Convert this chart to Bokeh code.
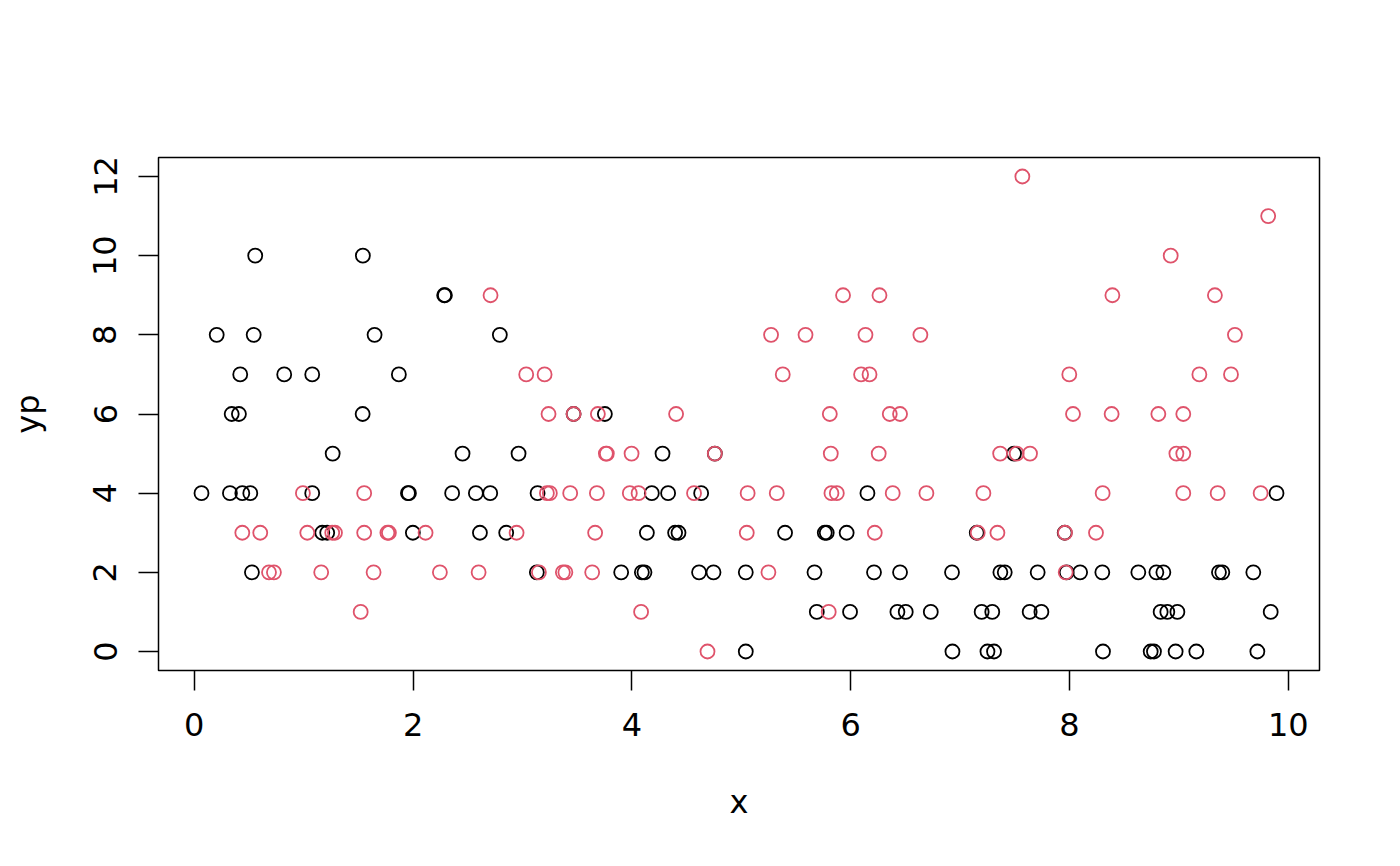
from bokeh.plotting import figure
from bokeh.models import FixedTicker, Range1d
from bokeh.embed import file_html
from bokeh.resources import INLINE

# ---- data ----
x_black = [0.557, 1.541,
           2.284, 2.291,
           0.205, 0.543, 1.648, 2.793,
           0.420, 0.822, 1.078, 1.870,
           0.342, 0.408, 1.539, 3.467, 3.753,
           1.265, 2.452, 2.964, 4.280, 4.758, 7.493,
           0.066, 0.326, 0.439, 0.512, 1.078, 1.953, 1.962, 2.357, 2.574, 2.705, 3.138, 4.182, 4.331, 4.633, 6.153, 9.892,
           1.170, 1.215, 1.998, 2.611, 2.851, 4.137, 4.395, 4.426, 5.400, 5.763, 5.781, 5.963, 7.152, 7.956,
           0.527, 3.131, 3.902, 4.091, 4.115, 4.614, 4.746, 5.041, 5.669, 6.213, 6.451, 6.926, 7.368, 7.408, 7.709, 7.974,
           8.097, 8.300, 8.629, 8.794, 8.858, 9.366, 9.397, 9.680,
           5.690, 5.994, 6.427, 6.503, 6.732, 7.197, 7.294, 7.636, 7.743, 8.833, 8.894, 8.986, 9.839,
           5.041, 6.930, 7.250, 7.310, 8.306, 8.742, 8.772, 8.970, 9.159, 9.717]
y_black = [10, 10,
           9, 9,
           8, 8, 8, 8,
           7, 7, 7, 7,
           6, 6, 6, 6, 6,
           5, 5, 5, 5, 5, 5,
           4, 4, 4, 4, 4, 4, 4, 4, 4, 4, 4, 4, 4, 4, 4, 4,
           3, 3, 3, 3, 3, 3, 3, 3, 3, 3, 3, 3, 3, 3,
           2, 2, 2, 2, 2, 2, 2, 2, 2, 2, 2, 2, 2, 2, 2, 2,
           2, 2, 2, 2, 2, 2, 2, 2,
           1, 1, 1, 1, 1, 1, 1, 1, 1, 1, 1, 1, 1,
           0, 0, 0, 0, 0, 0, 0, 0, 0, 0]

x_red = [7.569,
         9.816,
         8.925,
         2.708, 5.930, 6.263, 8.392, 9.329,
         5.272, 5.587, 6.135, 6.637, 9.512,
         3.034, 3.202, 5.379, 6.095, 6.172, 7.998, 9.187, 9.476,
         3.238, 3.467, 3.689, 4.404, 5.809, 6.357, 6.451, 8.032, 8.385, 8.812, 9.040,
         3.762, 3.771, 3.997, 4.758, 5.818, 6.256, 7.366, 7.517, 7.639, 8.977, 9.040,
         0.993, 1.553, 3.223, 3.250, 3.436, 3.680, 3.981, 4.061, 4.568, 5.058, 5.324, 5.824, 5.873, 6.384, 6.692,
         7.213, 8.303, 9.040, 9.354, 9.747,
         0.439, 0.603, 1.033, 1.261, 1.286, 1.553, 1.765, 1.779, 2.114, 2.946, 3.664, 5.050, 6.220, 7.161, 7.341,
         7.959, 8.242,
         0.683, 0.728, 1.160, 1.639, 2.245, 2.599, 3.150, 3.369, 3.392, 3.637, 5.248, 7.965,
         1.521, 4.084, 5.799,
         4.691]
y_red = [12,
         11,
         10,
         9, 9, 9, 9, 9,
         8, 8, 8, 8, 8,
         7, 7, 7, 7, 7, 7, 7, 7,
         6, 6, 6, 6, 6, 6, 6, 6, 6, 6, 6,
         5, 5, 5, 5, 5, 5, 5, 5, 5, 5, 5,
         4, 4, 4, 4, 4, 4, 4, 4, 4, 4, 4, 4, 4, 4, 4,
         4, 4, 4, 4, 4,
         3, 3, 3, 3, 3, 3, 3, 3, 3, 3, 3, 3, 3, 3, 3,
         3, 3,
         2, 2, 2, 2, 2, 2, 2, 2, 2, 2, 2, 2,
         1, 1, 1,
         0]

x_ticks = [0, 2, 4, 6, 8, 10]
y_ticks = [0, 2, 4, 6, 8, 10, 12]
x_label = "x"
y_label = "yp"


def r_limits(vals):
    lo, hi = min(vals), max(vals)
    d = (hi - lo) * 0.04
    return lo - d, hi + d


xl = r_limits(x_black + x_red)
yl = r_limits(y_black + y_red)

p = figure(width=1384, height=850, output_backend="svg", toolbar_location=None,
           x_range=Range1d(*xl), y_range=Range1d(*yl),
           min_border_left=158, min_border_right=65,
           min_border_top=157, min_border_bottom=180)
p.grid.visible = False
p.outline_line_color = "black"
p.outline_line_width = 1.5
p.background_fill_color = "white"
p.border_fill_color = "white"

p.scatter(x_black, y_black, marker="circle", size=14, fill_color=None,
          line_color="black", line_width=1.8)
p.scatter(x_red, y_red, marker="circle", size=14, fill_color=None,
          line_color="#DF536B", line_width=1.8)

p.xaxis.ticker = FixedTicker(ticks=x_ticks)
p.yaxis.ticker = FixedTicker(ticks=y_ticks)
p.xaxis.axis_label = x_label
p.yaxis.axis_label = y_label
p.yaxis.major_label_orientation = "vertical"

for ax in (p.xaxis[0], p.yaxis[0]):
    ax.axis_line_color = None
    ax.major_tick_out = 20
    ax.major_tick_in = 0
    ax.minor_tick_out = 0
    ax.minor_tick_in = 0
    ax.major_tick_line_width = 1.5
    ax.major_tick_line_color = "black"
    ax.major_label_standoff = 22
    ax.major_label_text_font = "DejaVu Sans"
    ax.major_label_text_font_size = "32px"
    ax.major_label_text_color = "black"
    ax.axis_label_text_font = "DejaVu Sans"
    ax.axis_label_text_font_size = "32px"
    ax.axis_label_text_font_style = "normal"
    ax.axis_label_text_color = "black"
    ax.axis_label_standoff = 44

open("out.html", "w").write(file_html(p, INLINE))
